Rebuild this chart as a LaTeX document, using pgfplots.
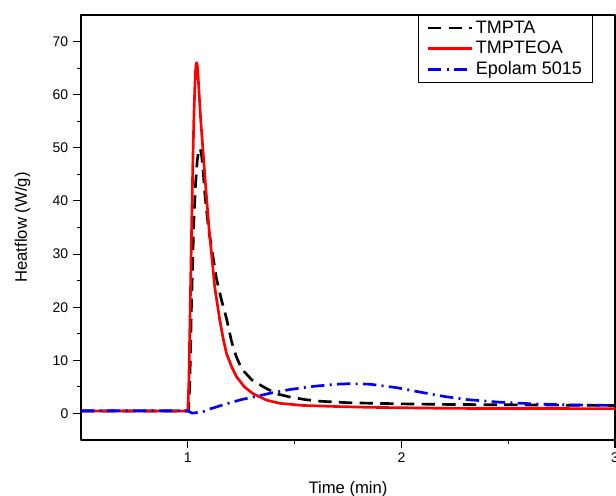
\documentclass[border=0pt]{standalone}
\usepackage{pgfplots}
\pgfplotsset{compat=1.18}
\usepackage{fontspec}
\setmainfont{Liberation Sans}
\begin{document}
\begin{tikzpicture}
\begin{axis}[
  scale only axis,
  width=400.5pt, height=318.75pt,
  xmin=0.5, xmax=3.0, ymin=-5, ymax=75,
  xtick={1,2,3}, minor x tick num=1,
  ytick={0,10,20,30,40,50,60,70}, minor y tick num=1,
  xtick pos=left, ytick pos=left,
  tick align=outside,
  major tick length=6pt, minor tick length=3pt,
  every tick/.style={black, line width=0.8pt},
  axis line style={line width=0.8pt},
  /pgf/number format/assume math mode=true,
  tick label style={font=\fontsize{10.5}{12}\selectfont},
  label style={font=\fontsize{12.5}{15}\selectfont},
  xlabel={Time (min)}, ylabel={Heatflow (W/g)},
  xlabel style={yshift=-7pt},
  ylabel style={yshift=10pt},
  legend style={at={(0.959,1)}, anchor=north east, draw=black, line width=0.8pt,
    font=\fontsize{13.5}{16}\selectfont, inner xsep=6pt, inner ysep=2pt, row sep=0.5pt,
    cells={anchor=west}},
  legend image code/.code={\draw[#1] (0pt,0pt) -- (33pt,0pt);},
  line join=round,
  clip=true,
]
\addplot[black, line width=2pt, dash pattern=on 10pt off 5.5pt] coordinates {
(0.5,0.45) (1.003,0.45) (1.009,5) (1.017,20) (1.028,36) (1.036,43) (1.044,47.5) (1.051,49.5) (1.058,49.9) (1.065,48.5) (1.072,45.5) (1.081,40.8) (1.098,34.5) (1.116,30) (1.134,25.4) (1.158,21.3) (1.181,17.9) (1.205,13.5) (1.228,10.6) (1.252,8.4) (1.30,6.3) (1.354,5.0) (1.415,3.7) (1.478,3.1) (1.55,2.6) (1.618,2.3) (1.759,2.0) (2.009,1.8) (2.2,1.7) (2.6,1.6) (3.0,1.5)
};
\addlegendentry{TMPTA}
\addplot[red, line width=2pt] coordinates {
(0.5,0.45) (1.0,0.45) (1.005,6) (1.010,17) (1.017,33) (1.024,48) (1.029,56.5) (1.033,61.5) (1.036,64.3) (1.039,65.8) (1.042,66) (1.045,65.3) (1.049,63) (1.054,59.5) (1.060,55.5) (1.072,49) (1.085,42) (1.100,34.5) (1.111,30.1) (1.126,23.8) (1.150,17.5) (1.165,14.2) (1.181,11.3) (1.205,8.8) (1.228,6.9) (1.265,5.0) (1.306,3.7) (1.369,2.5) (1.431,1.9) (1.54,1.5) (1.70,1.3) (1.85,1.15) (2.23,0.95) (3.0,0.9)
};
\addlegendentry{TMPTEOA}
\addplot[blue, line width=2pt, dash pattern=on 10pt off 4pt on 1.5pt off 4pt] coordinates {
(0.5,0.5) (1.0,0.5) (1.02,0.05) (1.07,0.3) (1.1,0.8) (1.18,1.8) (1.25,2.6) (1.32,3.2) (1.385,3.8) (1.478,4.5) (1.588,5.1) (1.697,5.5) (1.76,5.6) (1.853,5.5) (1.978,4.85) (2.09,4.0) (2.2,3.2) (2.309,2.6) (2.465,2.1) (2.62,1.8) (2.78,1.6) (3.0,1.5)
};
\addlegendentry{Epolam 5015}
\end{axis}
\pgfresetboundingbox
\path[use as bounding box] ([xshift=-60.75pt,yshift=-41.25pt]current axis.south west) rectangle ([xshift=0.75pt,yshift=11.25pt]current axis.north east);
\end{tikzpicture}
\end{document}
